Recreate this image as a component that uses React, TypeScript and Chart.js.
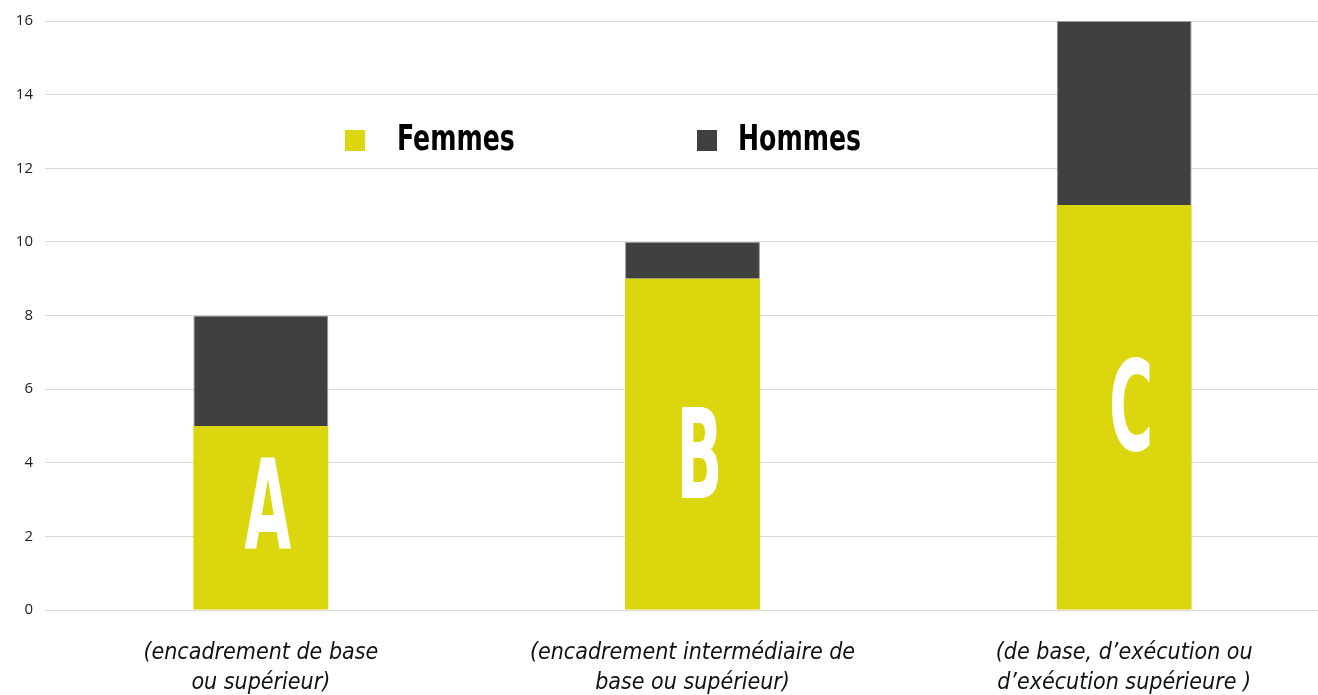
import React, { useEffect, useRef } from "react";
import { Chart, registerables } from "chart.js";

Chart.register(...registerables);

const categories: string[][] = [
  ["(encadrement de base", "ou supérieur)"],
  ["(encadrement intermédiaire de", "base ou supérieur)"],
  ["(de base, d’exécution ou", "d’exécution supérieure )"],
];
const letters = ["A", "B", "C"];
const letterLevels = [2.8, 4.2, 5.5];
const femmes = [5, 9, 11];
const hommes = [3, 1, 5];
const yTicks = [0, 2, 4, 6, 8, 10, 12, 14, 16];

const YELLOW = "#DCD60E";
const DARK = "#404040";
const NARROW = "'DejaVu Sans Condensed', 'Liberation Sans Narrow', 'Liberation Sans', sans-serif";

const overlayPlugin = {
  id: "overlay",
  afterDatasetsDraw(chart: any) {
    const ctx = chart.ctx as CanvasRenderingContext2D;
    const meta = chart.getDatasetMeta(0);
    const yScale = chart.scales.y;
    meta.data.forEach((bar: any, i: number) => {
      const cy = yScale.getPixelForValue(letterLevels[i]);
      ctx.save();
      ctx.translate(bar.x + 7, cy);
      ctx.scale(0.54, 1);
      ctx.fillStyle = "#ffffff";
      ctx.font = `bold 124px ${NARROW}`;
      ctx.textAlign = "center";
      ctx.textBaseline = "middle";
      ctx.fillText(letters[i], 0, 10);
      ctx.restore();
    });
    const items = [
      { label: chart.data.datasets[0].label, color: YELLOW, sx: 345, tx: 397 },
      { label: chart.data.datasets[1].label, color: DARK, sx: 697, tx: 738 },
    ];
    items.forEach((it) => {
      ctx.save();
      ctx.fillStyle = it.color;
      ctx.fillRect(it.sx, 130, 20, 21);
      ctx.translate(it.tx, 150);
      ctx.scale(0.8, 1);
      ctx.fillStyle = "#000000";
      ctx.font = `bold 35px ${NARROW}`;
      ctx.textAlign = "left";
      ctx.textBaseline = "alphabetic";
      ctx.fillText(it.label, 0, 0);
      ctx.restore();
    });
  },
};

export default function App() {
  const ref = useRef<HTMLCanvasElement>(null);
  useEffect(() => {
    if (!ref.current) return;
    const chart = new Chart(ref.current, {
      type: "bar",
      data: {
        labels: categories,
        datasets: [
          {
            label: "Femmes",
            data: femmes,
            backgroundColor: YELLOW,
            borderWidth: 0,
            barPercentage: 0.3125,
            categoryPercentage: 1,
          },
          {
            label: "Hommes",
            data: hommes,
            backgroundColor: DARK,
            borderColor: "#9a9a9a",
            borderWidth: 1,
            barPercentage: 0.3125,
            categoryPercentage: 1,
          },
        ],
      },
      options: {
        animation: false,
        responsive: false,
        maintainAspectRatio: false,
        layout: { padding: { top: 21, left: 0, right: 0, bottom: 0 } },
        plugins: { legend: { display: false }, tooltip: { enabled: false } },
        scales: {
          x: {
            stacked: true,
            grid: { display: false },
            border: { display: false },
            ticks: {
              autoSkip: false,
              maxRotation: 0,
              minRotation: 0,
              padding: 20,
              color: "#111111",
              font: { family: NARROW, size: 23, style: "italic", lineHeight: 1.3 },
            },
            afterFit(scale: any) {
              scale.height = 85;
            },
          },
          y: {
            stacked: true,
            min: 0,
            max: 16,
            afterBuildTicks(scale: any) {
              scale.ticks = yTicks.map((v) => ({ value: v }));
            },
            grid: { color: "#d9d9d9", lineWidth: 1, drawTicks: false },
            border: { display: false },
            ticks: {
              padding: 12,
              color: "#222222",
              font: { family: "'Open Sans', 'Liberation Sans', sans-serif", size: 15 },
            },
            afterFit(scale: any) {
              scale.width = 45;
            },
          },
        },
      },
      plugins: [overlayPlugin],
    });
    return () => chart.destroy();
  }, []);
  return (
    <div style={{ position: "fixed", left: 0, top: 0, width: 1318, height: 695, overflow: "hidden", background: "#fff" }}>
      <canvas ref={ref} width={1340} height={695} style={{ display: "block", width: 1340, height: 695 }} />
    </div>
  );
}
